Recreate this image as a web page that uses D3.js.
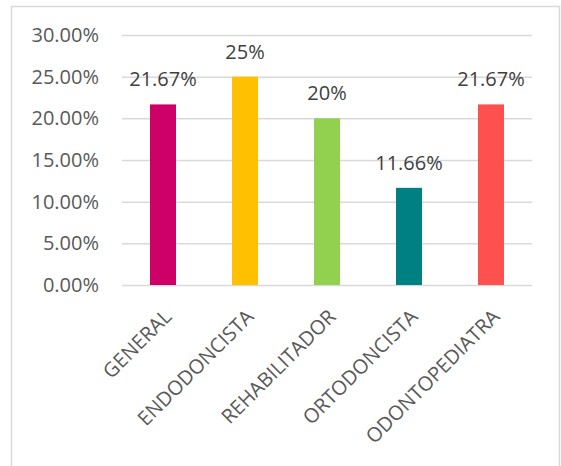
<!DOCTYPE html>
<html>
<head>
<meta charset="utf-8">
<script src="https://cdn.jsdelivr.net/npm/d3@7"></script>
<style>
	body { margin: 0; background: #fff; }
	svg text { font-family: "Open Sans", sans-serif; }
</style>
</head>
<body>
<svg id="chart" width="561" height="466"></svg>
<script>
const categories = ["GENERAL", "ENDODONCISTA", "REHABILITADOR", "ORTODONCISTA", "ODONTOPEDIATRA"];
const values = [0.2167, 0.25, 0.20, 0.1166, 0.2167];
const valueLabels = ["21.67%", "25%", "20%", "11.66%", "21.67%"];
const colors = ["#CC0066", "#FFC000", "#92D050", "#008080", "#FF5050"];
const yTicks = [0, 0.05, 0.10, 0.15, 0.20, 0.25, 0.30];

const svg = d3.select("#chart");

// chart frame
svg.append("rect")
	.attr("x", 11.5).attr("y", 6.5)
	.attr("width", 548).attr("height", 470)
	.attr("fill", "#fff")
	.attr("stroke", "#D9D9D9")
	.attr("stroke-width", 1.5);

const margin = { top: 35, left: 122 },
	width = 410,
	height = 250;

const x = d3.scaleBand()
	.domain(categories)
	.range([0, width])
	.paddingInner(0.683)
	.paddingOuter(0.3415);

const y = d3.scaleLinear()
	.domain([0, 0.30])
	.range([height, 0]);

const g = svg.append("g")
	.attr("transform", "translate(" + margin.left + "," + margin.top + ")");

// gridlines + y labels
const yAxis = d3.axisLeft(y)
	.tickValues(yTicks)
	.tickFormat(d3.format(".2%"))
	.tickSize(-width)
	.tickPadding(23);

g.append("g")
	.call(yAxis)
	.call(a => a.select(".domain").remove())
	.call(a => a.selectAll("line").attr("stroke", "#D9D9D9").attr("stroke-width", 1.5))
	.call(a => a.selectAll("text")
		.attr("fill", "#595959")
		.style("font-size", "20px"));

// bars
g.selectAll(".bar")
	.data(values)
	.join("rect")
	.attr("class", "bar")
	.attr("x", (d, i) => x(categories[i]))
	.attr("y", d => y(d))
	.attr("width", x.bandwidth())
	.attr("height", d => height - y(d))
	.attr("fill", (d, i) => colors[i]);

// data labels
g.selectAll(".lbl")
	.data(values)
	.join("text")
	.attr("class", "lbl")
	.attr("x", (d, i) => x(categories[i]) + x.bandwidth() / 2)
	.attr("y", d => y(d) - 18)
	.attr("text-anchor", "middle")
	.attr("fill", "#404040")
	.style("font-size", "20px")
	.text((d, i) => valueLabels[i]);

// category labels, rotated
g.selectAll(".cat")
	.data(categories)
	.join("text")
	.attr("class", "cat")
	.attr("text-anchor", "end")
	.attr("dy", "0.35em")
	.attr("transform", d => "translate(" + (x(d) + x.bandwidth() / 2 + 5) + "," + (height + 28) + ") rotate(-45)")
	.attr("fill", "#595959")
	.style("font-size", "20px")
	.text(d => d);
</script>
</body>
</html>
